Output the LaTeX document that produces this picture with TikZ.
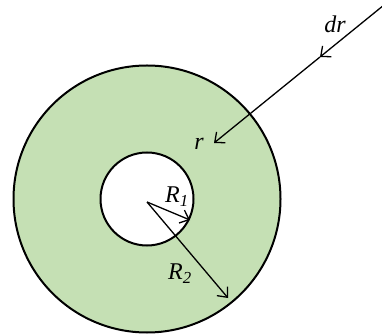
\documentclass[tikz,border=0pt]{standalone}
\usepackage{fontspec}
\setmainfont{Liberation Serif}
\usetikzlibrary{arrows.meta}
\definecolor{ringgreen}{RGB}{197,224,180}
\tikzset{
  ring/.style={draw=black, line width=2pt},
  arr/.style={draw=black, line width=1.3pt, -{Straight Barb[length=8pt,width=14pt,line width=1.3pt]}},
  lbl/.style={font=\fontsize{24}{28}\selectfont\itshape, inner sep=0pt}
}
\begin{document}
\begin{tikzpicture}[x=1pt,y=-1pt]
\useasboundingbox (0,0) rectangle (382,336);
\coordinate (c) at (147,199);
\coordinate (o) at (147,202);
\fill[ringgreen] (c) circle (133.5);
\draw[ring] (c) circle (133.5);
\fill[white] (c) circle (46.5);
\draw[ring] (c) circle (46.5);
% dr line
\coordinate (s) at (384,5);
\coordinate (m) at (320,57);
\coordinate (e) at (214,143);
\draw[arr] (s) -- (m);
\draw[arr] (m) -- (e);
\node[lbl] (dr) at (335,24) {dr};
\node[lbl] (r) at (199,144) {r};
% radii
\coordinate (t1) at (190,220);
\coordinate (t2) at (228,298);
\draw[arr] (o) -- (t1);
\draw[arr] (o) -- (t2);
\node[lbl] (R1) at (177,197) {R\textsubscript{1}};
\node[lbl] (R2) at (180,274) {R\textsubscript{2}};
\end{tikzpicture}
\end{document}
